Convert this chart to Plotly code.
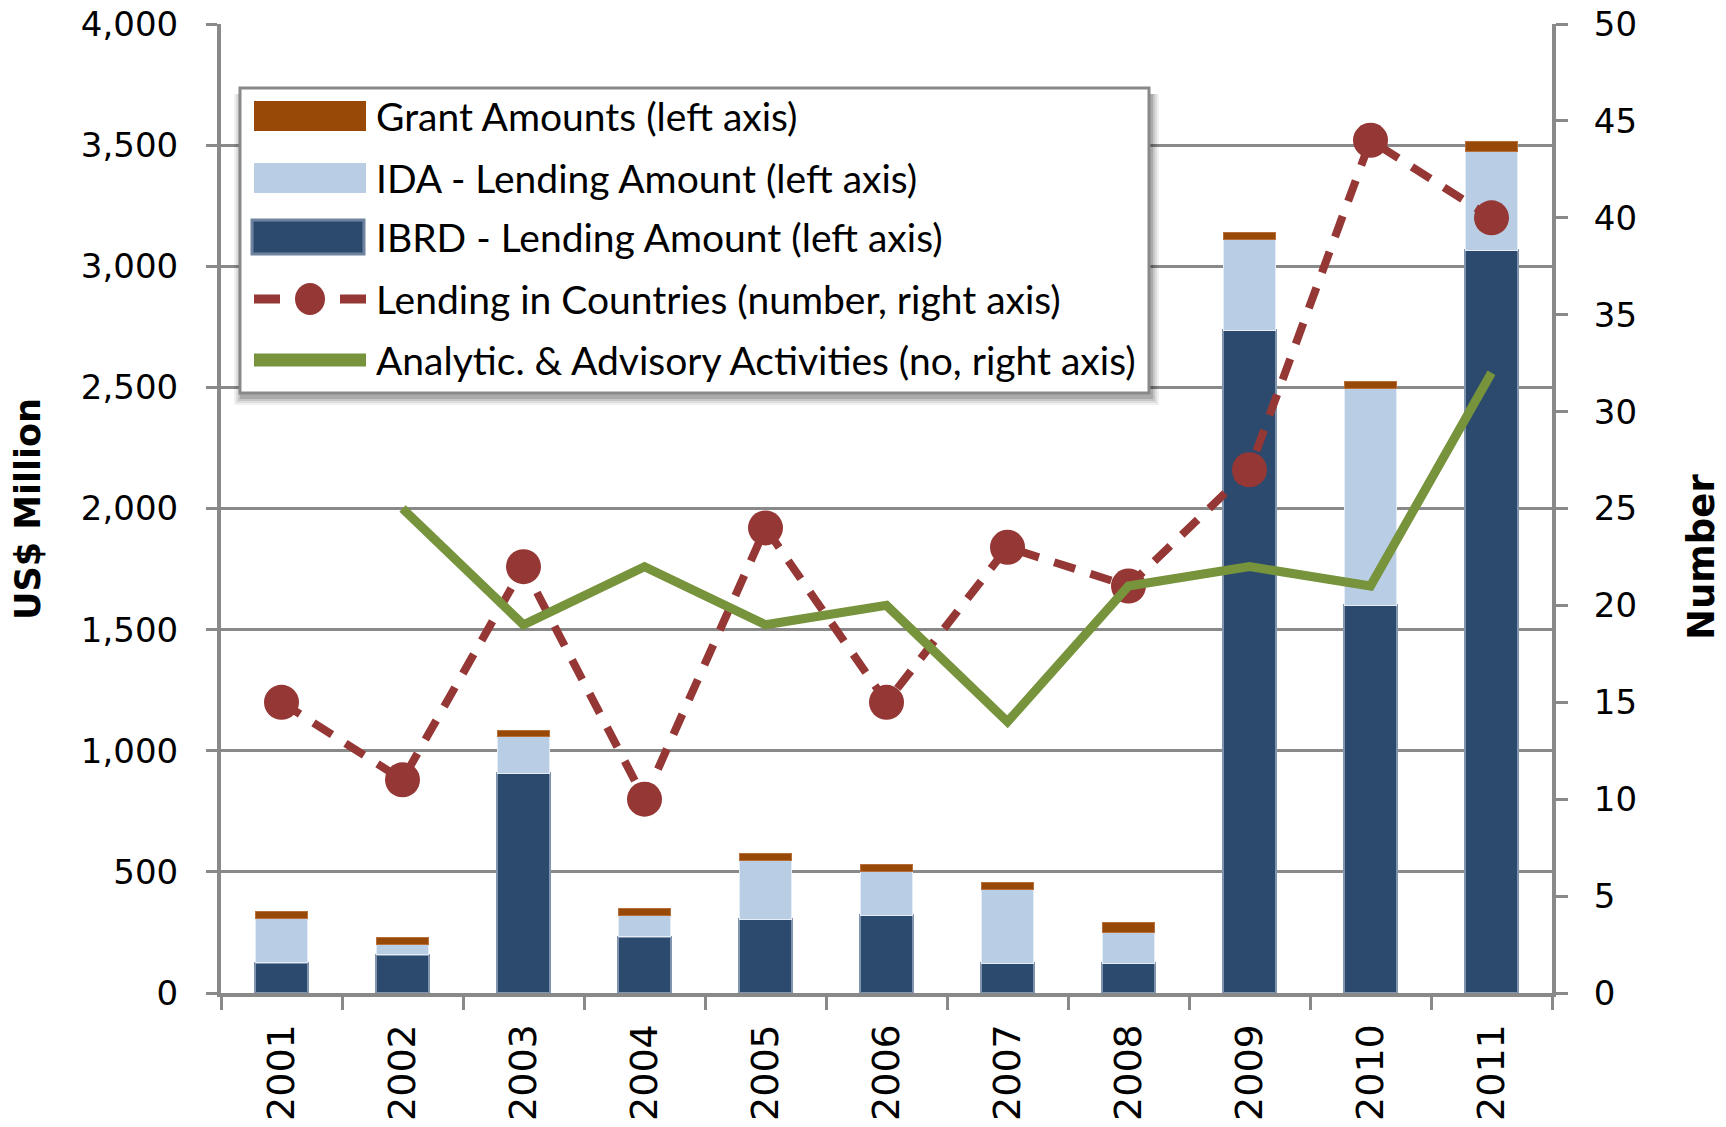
import plotly.graph_objects as go

# ---------------- data ----------------
years = ["2001", "2002", "2003", "2004", "2005", "2006", "2007", "2008", "2009", "2010", "2011"]
ibrd = [125, 157, 907, 233, 305, 322, 123, 123, 2736, 1600, 3066]
ida = [183, 44, 151, 89, 242, 180, 304, 126, 376, 896, 406]
grant = [28, 30, 27, 27, 28, 29, 29, 43, 27, 27, 44]
countries = [15, 11, 22, 10, 24, 15, 23, 21, 27, 44, 40]
aaa = [None, 25, 19, 22, 19, 20, 14, 21, 22, 21, 32]
left_ticks = list(range(0, 4001, 500))
right_ticks = list(range(0, 51, 5))
legend_labels = [
    "Grant Amounts (left axis)",
    "IDA - Lending Amount (left axis)",
    "IBRD - Lending Amount (left axis)",
    "Lending in Countries (number, right axis)",
    "Analytic. & Advisory Activities (no, right axis)",
]

# ---------------- styling ----------------
W, H = 1726, 1127
L, R, T, B = 221, 1552, 24, 993
C_GRANT = "#984807"
C_IDA = "#B9CDE5"
C_IBRD = "#2C4A6E"
C_RED = "#953735"
C_GREEN = "#77933C"
GRID = "#898989"
TICKFONT = dict(family="DejaVu Sans", size=34, color="black")
LEGFONT = "Lato, Liberation Sans, sans-serif"
TITLEFONT = "DejaVu Sans"


def px(x):
    return (x - L) / (R - L)


def py(y):
    return (B - y) / (B - T)


fig = go.Figure()
fig.add_trace(go.Bar(x=years, y=ibrd, name=legend_labels[2], width=0.43,
                     marker=dict(color=C_IBRD, line=dict(color="#8094AD", width=2))))
fig.add_trace(go.Bar(x=years, y=ida, name=legend_labels[1], width=0.43,
                     marker=dict(color=C_IDA, line=dict(color="#E4ECF5", width=1))))
fig.add_trace(go.Bar(x=years, y=grant, name=legend_labels[0], width=0.43,
                     marker=dict(color=C_GRANT, line=dict(color="#B8703A", width=1))))
fig.add_trace(go.Scatter(x=years, y=countries, name=legend_labels[3], yaxis="y2",
                         mode="lines+markers",
                         line=dict(color=C_RED, width=8, dash="22px,16px"),
                         marker=dict(color=C_RED, size=35)))
fig.add_trace(go.Scatter(x=years, y=aaa, name=legend_labels[4], yaxis="y2",
                         mode="lines", line=dict(color=C_GREEN, width=9)))

fig.update_layout(
    width=W, height=H,
    margin=dict(l=L, r=W - R, t=T, b=H - B, autoexpand=False),
    paper_bgcolor="white", plot_bgcolor="white",
    barmode="stack",
    showlegend=False,
    xaxis=dict(type="category", range=[-0.5, 10.5], autorange=False,
               tickson="boundaries", ticks="outside", ticklen=13,
               tickwidth=3, tickcolor=GRID, showline=True, linecolor=GRID, linewidth=4,
               tickangle=-90, tickfont=dict(family="DejaVu Sans", size=38, color="black"),
               showgrid=False, ticklabelstandoff=12, automargin=False),
    yaxis=dict(range=[0, 4000], autorange=False, tickvals=left_ticks, tickformat=",d",
               ticks="outside", ticklen=11, tickwidth=3, tickcolor=GRID,
               showline=True, linecolor=GRID, linewidth=4,
               showgrid=True, gridcolor=GRID, gridwidth=3, zeroline=False,
               tickfont=TICKFONT, ticklabelstandoff=21, automargin=False),
    yaxis2=dict(range=[0, 50], autorange=False, tickvals=right_ticks, overlaying="y", side="right",
                ticks="outside", ticklen=12, tickwidth=3, tickcolor=GRID,
                showline=True, linecolor=GRID, linewidth=4, showgrid=False, zeroline=False,
                tickfont=TICKFONT, ticklabelstandoff=19, automargin=False),
)

shapes = []
annotations = []

# axis titles
annotations.append(dict(text="<b>US$ Million</b>", x=px(28), y=py(509), xref="paper", yref="paper",
                        textangle=-90, showarrow=False, xanchor="center", yanchor="middle",
                        font=dict(family=TITLEFONT, size=35, color="black")))
annotations.append(dict(text="<b>Number</b>", x=px(1701), y=py(557), xref="paper", yref="paper",
                        textangle=-90, showarrow=False, xanchor="center", yanchor="middle",
                        font=dict(family=TITLEFONT, size=37, color="black")))

# legend box with soft shadow
lx0, lx1, ly0, ly1 = 240, 1149, 88, 393
for i, op in enumerate([0.06, 0.08, 0.10, 0.14]):
    d = 10 - 2 * i
    shapes.append(dict(type="rect", xref="paper", yref="paper", layer="above",
                       x0=px(lx0 - d + 4), x1=px(lx1 + d), y0=py(ly1 + d + 2), y1=py(ly0 + 6),
                       line=dict(width=0), fillcolor=f"rgba(0,0,0,{op})"))
shapes.append(dict(type="rect", xref="paper", yref="paper", layer="above",
                   x0=px(lx0), x1=px(lx1), y0=py(ly1), y1=py(ly0),
                   line=dict(color=GRID, width=3), fillcolor="white"))

sx0, sx1 = 254, 366
rows = [116, 178, 237, 299, 360]
# swatches
shapes.append(dict(type="rect", xref="paper", yref="paper", layer="above",
                   x0=px(sx0), x1=px(sx1), y0=py(rows[0] + 15), y1=py(rows[0] - 15),
                   line=dict(width=0), fillcolor=C_GRANT))
shapes.append(dict(type="rect", xref="paper", yref="paper", layer="above",
                   x0=px(sx0), x1=px(sx1), y0=py(rows[1] + 15), y1=py(rows[1] - 15),
                   line=dict(width=0), fillcolor=C_IDA))
shapes.append(dict(type="rect", xref="paper", yref="paper", layer="above",
                   x0=px(sx0 - 2), x1=px(sx1 - 2), y0=py(rows[2] + 17), y1=py(rows[2] - 17),
                   line=dict(color="#6F84A0", width=3), fillcolor=C_IBRD))
for a, b in [(sx0, sx0 + 26), (sx1 - 26, sx1)]:
    shapes.append(dict(type="line", xref="paper", yref="paper", layer="above",
                       x0=px(a), x1=px(b), y0=py(rows[3]), y1=py(rows[3]),
                       line=dict(color=C_RED, width=9)))
shapes.append(dict(type="circle", xref="paper", yref="paper", layer="above",
                   x0=px(295), x1=px(325), y0=py(rows[3] + 16), y1=py(rows[3] - 16),
                   line=dict(width=0), fillcolor=C_RED))
shapes.append(dict(type="line", xref="paper", yref="paper", layer="above",
                   x0=px(sx0), x1=px(sx1), y0=py(rows[4]), y1=py(rows[4]),
                   line=dict(color=C_GREEN, width=13)))

for lab, r in zip(legend_labels, rows):
    annotations.append(dict(text=lab, x=px(374), y=py(r), xref="paper", yref="paper",
                            showarrow=False, xanchor="left", yanchor="middle",
                            font=dict(family=LEGFONT, size=39, color="black")))

fig.update_layout(shapes=shapes, annotations=annotations)

fig.write_html("out.html", config={"displayModeBar": False},
               post_script="document.body.style.margin='0';")
